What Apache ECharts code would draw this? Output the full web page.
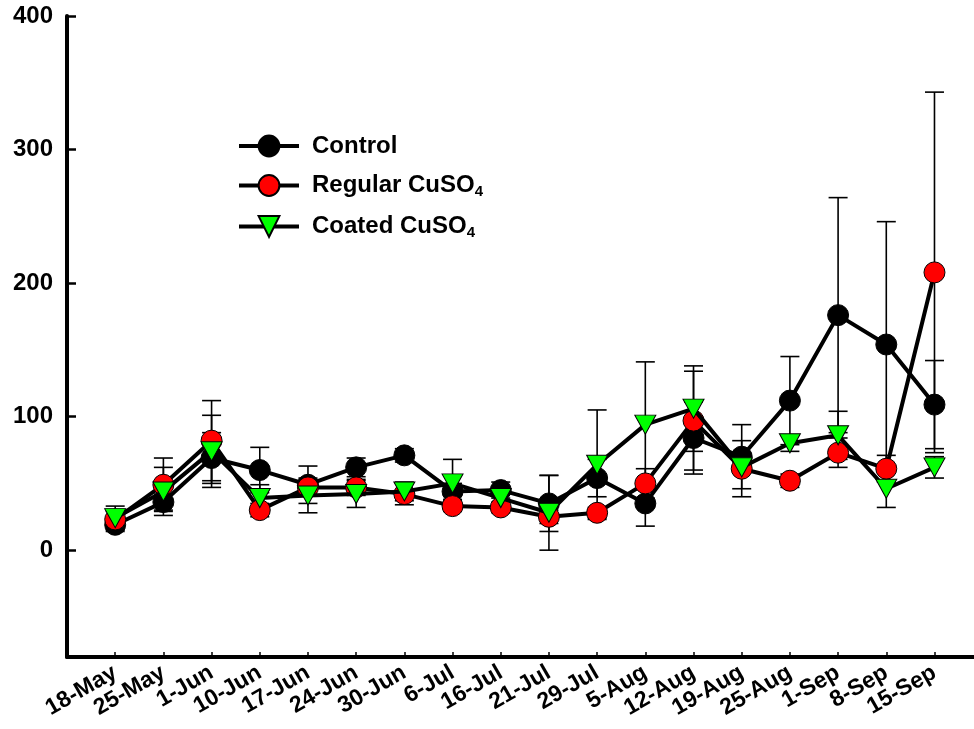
<!DOCTYPE html>
<html>
<head>
<meta charset="utf-8">
<script src="https://cdn.jsdelivr.net/npm/echarts@6/dist/echarts.min.js"></script>
<style>
  html, body { margin: 0; padding: 0; background: #fff; }
  #chart { width: 974px; height: 729px; }
</style>
</head>
<body>
<div id="chart"></div>
<script>
// Sampling dates
const categories = ['18-May', '25-May', '1-Jun', '10-Jun', '17-Jun', '24-Jun', '30-Jun', '6-Jul',
  '16-Jul', '21-Jul', '29-Jul', '5-Aug', '12-Aug', '19-Aug', '25-Aug', '1-Sep', '8-Sep', '15-Sep'];

// Means and standard errors per treatment
const control    = [19, 36, 69, 60, 49, 62, 71, 44, 45, 35, 54, 35, 84, 70, 112, 176, 154, 109];
const controlErr = [5, 6, 19, 17, 14, 7, 5, 6, 6, 21, 14, 17, 27, 24, 33, 88, 92, 33];
const regular    = [23, 49, 82, 30, 47, 47, 42, 33, 32, 25, 28, 50, 97, 61, 52, 73, 61, 208];
const regularErr = [6, 20, 30, 5, 6, 6, 8, 4, 4, 5, 4, 11, 37, 21, 5, 11, 10, 135];
const coated     = [24, 44, 74, 39, 41, 42, 44, 50, 39, 28, 64, 94, 106, 62, 80, 86, 46, 62];
const coatedErr  = [9, 18, 27, 10, 13, 10, 7, 18, 6, 28, 41, 47, 32, 4, 6, 18, 14, 8];

const yTicks = [0, 100, 200, 300, 400];

const FONT = '"Liberation Sans", Arial, sans-serif';
const chart = echarts.init(document.getElementById('chart'));

function points(vals) {
  return vals.map((v, i) => [i, v]);
}
function errPoints(vals, errs) {
  return vals.map((v, i) => [i, v, errs[i]]);
}

// Vertical error bar with horizontal caps
function renderErr(params, api) {
  const x = api.value(0), y = api.value(1), e = api.value(2);
  const top = api.coord([x, y + e]);
  const bot = api.coord([x, y - e]);
  const w = 9.5;
  const style = { stroke: '#000', lineWidth: 1.6 };
  return {
    type: 'group',
    children: [
      { type: 'line', shape: { x1: top[0], y1: top[1], x2: bot[0], y2: bot[1] }, style },
      { type: 'line', shape: { x1: top[0] - w, y1: top[1], x2: top[0] + w, y2: top[1] }, style },
      { type: 'line', shape: { x1: bot[0] - w, y1: bot[1], x2: bot[0] + w, y2: bot[1] }, style }
    ]
  };
}

const xTickValues = categories.map((c, i) => i);

function lineSeries(name, vals, color, symbol, rotate, z) {
  return {
    name,
    type: 'line',
    data: points(vals),
    symbol,
    symbolSize: symbol === 'triangle' ? [21, 19] : 21,
    symbolRotate: rotate,
    z,
    lineStyle: { color: '#000', width: 4 },
    itemStyle: { color, borderColor: '#000', borderWidth: 1 },
    emphasis: { disabled: true },
    animation: false
  };
}

function errSeries(vals, errs, z) {
  return {
    type: 'custom',
    data: errPoints(vals, errs),
    renderItem: renderErr,
    z,
    silent: true,
    animation: false
  };
}

chart.setOption({
  animation: false,
  grid: { left: 67, right: 0, top: 16, bottom: 72, containLabel: false },
  legend: {
    orient: 'vertical',
    left: 237,
    top: 134,
    padding: 0,
    itemWidth: 60,
    itemHeight: 26,
    itemGap: 15.5,
    selectedMode: false,
    lineStyle: { width: 4, color: '#000' },
    data: ['Control', 'Regular', 'Coated'],
    formatter: function (name) {
      if (name === 'Control') return '{t|Control}';
      if (name === 'Regular') return '{t|Regular CuSO}{s|4}';
      return '{t|Coated CuSO}{s|4}';
    },
    textStyle: {
      padding: [0, 0, 0, 8],
      rich: {
        t: { fontFamily: FONT, fontWeight: 'bold', fontSize: 24, color: '#000' },
        s: { fontFamily: FONT, fontWeight: 'bold', fontSize: 15, color: '#000', verticalAlign: 'bottom', padding: [12, 0, 0, 0] }
      }
    }
  },
  xAxis: {
    type: 'value',
    min: -1,
    max: 17.82,
    axisLine: { show: true, onZero: false, lineStyle: { color: '#000', width: 4 } },
    axisTick: { show: true, inside: true, length: 5, lineStyle: { color: '#000', width: 1.5 }, customValues: xTickValues },
    axisLabel: {
      customValues: xTickValues,
      rotate: 30,
      margin: 14,
      fontFamily: FONT,
      fontWeight: 'bold',
      fontSize: 23,
      color: '#000',
      formatter: v => categories[v] || ''
    },
    splitLine: { show: false }
  },
  yAxis: {
    type: 'value',
    min: -80,
    max: 400,
    axisLine: { show: true, onZero: false, lineStyle: { color: '#000', width: 4 } },
    axisTick: { show: true, inside: true, length: 9, lineStyle: { color: '#000', width: 2.5 }, customValues: yTicks },
    axisLabel: {
      customValues: yTicks,
      margin: 14,
      fontFamily: FONT,
      fontWeight: 'bold',
      fontSize: 24,
      color: '#000'
    },
    splitLine: { show: false }
  },
  series: [
    errSeries(control, controlErr, 1),
    errSeries(regular, regularErr, 1),
    errSeries(coated, coatedErr, 1),
    lineSeries('Control', control, '#000000', 'circle', 0, 3),
    lineSeries('Regular', regular, '#ff0000', 'circle', 0, 4),
    lineSeries('Coated', coated, '#00ff00', 'triangle', 180, 5)
  ]
});
</script>
</body>
</html>
